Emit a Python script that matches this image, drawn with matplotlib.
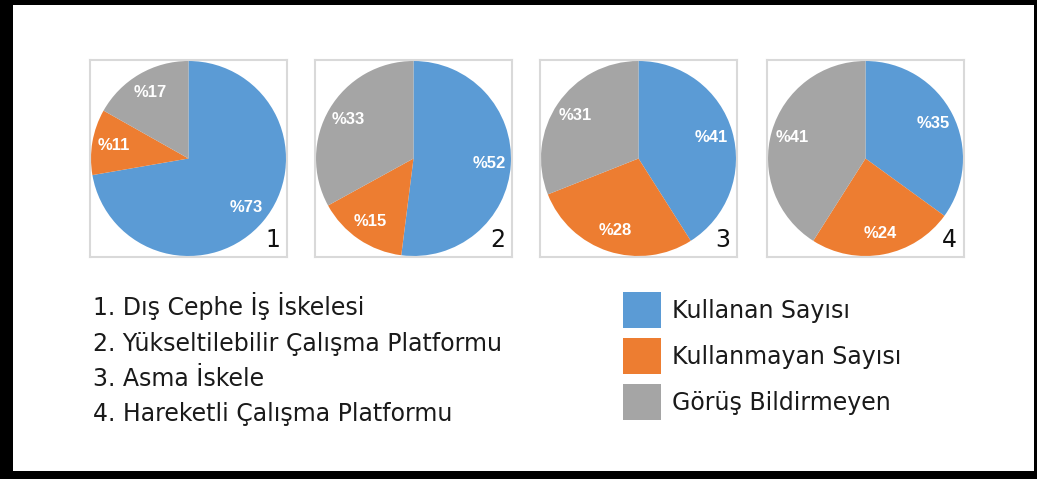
import matplotlib
matplotlib.use("Agg")
import matplotlib.pyplot as plt
from matplotlib.patches import Rectangle, Patch

W, H = 1037, 479

# veriler
series_names = ["Kullanan Sayısı", "Kullanmayan Sayısı", "Görüş Bildirmeyen"]
colors = ["#5B9BD5", "#ED7D31", "#A5A5A5"]
pie1 = [73, 11, 17]
pie2 = [52, 15, 33]
pie3 = [41, 28, 31]
pie4 = [35, 24, 41]
pie_numbers = ["1", "2", "3", "4"]
scaffold_types = [
    "1. Dış Cephe İş İskelesi",
    "2. Yükseltilebilir Çalışma Platformu",
    "3. Asma İskele",
    "4. Hareketli Çalışma Platformu",
]

def fx(px):
    return px / W

def fy(py):
    return 1 - py / H

fig = plt.figure(figsize=(W / 100, H / 100), dpi=100, facecolor="black")

# beyaz iç alan (siyah çerçeve)
fig.add_artist(Rectangle((fx(13), fy(471)), fx(1034) - fx(13), fy(5) - fy(471),
                         transform=fig.transFigure, facecolor="white",
                         edgecolor="none", zorder=0))

box_left = [90, 315, 540, 767]
box_top, box_size = 60, 197

for i, vals in enumerate([pie1, pie2, pie3, pie4]):
    ax = fig.add_axes([fx(box_left[i]), fy(box_top + box_size), box_size / W, box_size / H])
    wedges, texts = ax.pie(vals, colors=colors, startangle=90, counterclock=False,
                           radius=0.99, labels=["%" + str(v) for v in vals],
                           labeldistance=0.78, frame=True,
                           textprops=dict(color="white", fontsize=12, fontweight="bold",
                                          family="Liberation Sans"))
    for t in texts:
        t.set_ha("center")
        t.set_va("center")
    ax.set_xlim(-1, 1)
    ax.set_ylim(-1, 1)
    ax.set_xticks([])
    ax.set_yticks([])
    for s in ax.spines.values():
        s.set_color("#D9D9D9")
        s.set_linewidth(1.5)
    ax.text(0.965, 0.05, pie_numbers[i], transform=ax.transAxes, ha="right",
            va="baseline", fontsize=17, color="#111111")

# açıklama listesi
for j, name in enumerate(scaffold_types):
    fig.text(fx(93), fy(315 + 35.5 * j), name, fontsize=17, color="#1a1a1a",
             va="baseline", ha="left")

handles = [Patch(facecolor=c, edgecolor="none") for c in colors]
fig.legend(handles, series_names, loc="upper left",
           bbox_to_anchor=(fx(623), fy(292)), frameon=False, fontsize=17,
           handlelength=1.6, handleheight=1.98, handletextpad=0.47,
           labelspacing=0.42, borderpad=0, borderaxespad=0,
           labelcolor="#1a1a1a")

fig.savefig("out.png", dpi=100, facecolor=fig.get_facecolor())
